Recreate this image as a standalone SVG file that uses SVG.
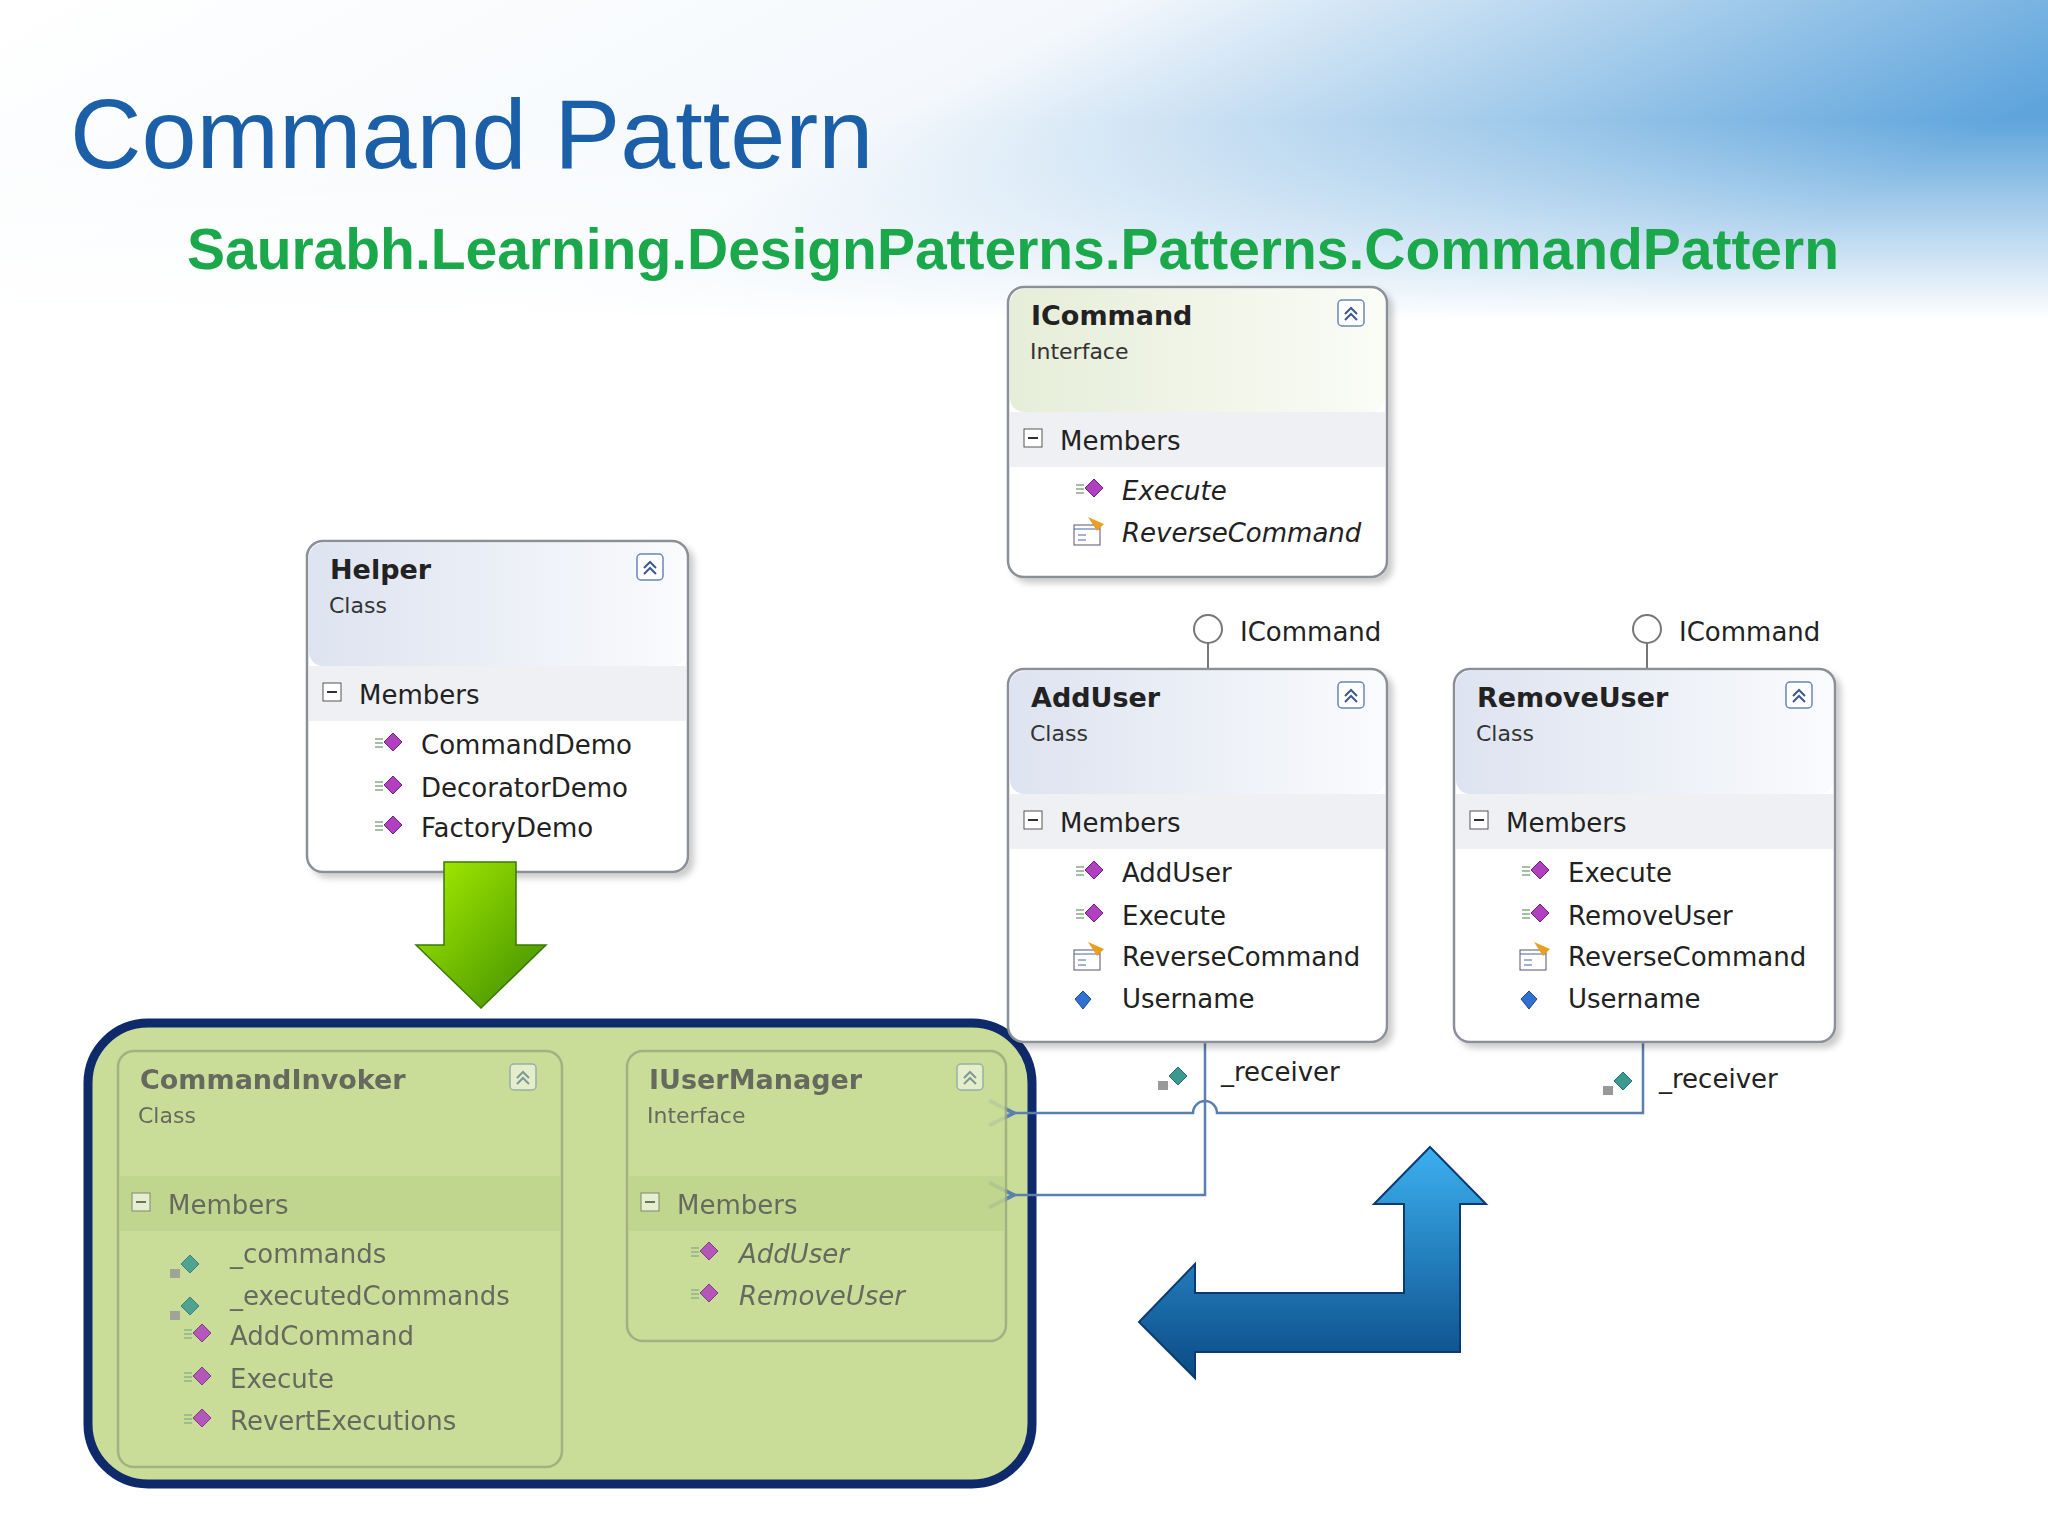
<svg xmlns="http://www.w3.org/2000/svg" width="2048" height="1536" viewBox="0 0 2048 1536">
<defs>
<linearGradient id="bg" x1="0" y1="0" x2="1" y2="0.3"><stop offset="0" stop-color="#fff"/><stop offset="0.5" stop-color="#f4f8fc"/><stop offset="1" stop-color="#5fa5dc"/></linearGradient>
<linearGradient id="bgfade" x1="0" y1="0" x2="0" y2="1"><stop offset="0" stop-color="#fff" stop-opacity="0"/><stop offset="1" stop-color="#fff"/></linearGradient>
<linearGradient id="hdr" x1="0" y1="0" x2="1" y2="0"><stop offset="0" stop-color="#dde3f0"/><stop offset="1" stop-color="#fafbfd"/></linearGradient>
<linearGradient id="hdrI" x1="0" y1="0" x2="1" y2="0"><stop offset="0" stop-color="#e6edd8"/><stop offset="1" stop-color="#fafcf6"/></linearGradient>
<linearGradient id="garr" x1="0" y1="0" x2="1" y2="1"><stop offset="0" stop-color="#a8f000"/><stop offset="1" stop-color="#3d8a00"/></linearGradient>
<linearGradient id="barr" x1="0" y1="0" x2="0" y2="1"><stop offset="0" stop-color="#3cb0f0"/><stop offset="1" stop-color="#0a4a85"/></linearGradient>
<marker id="oa" markerWidth="12" markerHeight="12" refX="1" refY="6" orient="auto"><path d="M11,1 L1,6 L11,11" fill="none" stroke="#5a7fb0" stroke-width="1.5"/></marker>
<g id="mth"><path d="M-14,-6 h8 M-14,-2 h8 M-14,2 h8" stroke="#8a8" stroke-width="1.5"/><path d="M4,-12 L13,-3 L4,6 L-5,-3 Z" fill="#b040c0" stroke="#702080"/></g>
<g id="prop"><rect x="-16" y="-16" width="26" height="20" fill="#fff" stroke="#557"/><path d="M-16,-12 h26 M-12,-6 h8 M-12,-1 h8" stroke="#46a"/><path d="M-2,-24 l16,7 l-7,7 z" fill="#e8a020"/></g>
<g id="fld"><path d="M0,-12 L8,-4 L0,6 L-8,-4 Z" fill="#3070d0" stroke="#1a4a90"/></g>
<g id="pfld"><rect x="-14" y="-4" width="10" height="9" fill="#999"/><path d="M6,-18 L15,-9 L6,0 L-3,-9 Z" fill="#3a9a90" stroke="#2a6a80"/></g>
<g id="col"><rect x="0" y="0" width="26" height="26" rx="4" fill="#fff" stroke="#6a86b8" stroke-width="1.5"/><path d="M7,14 l6,-6 l6,6 M7,20 l6,-6 l6,6" fill="none" stroke="#3a5a90" stroke-width="2"/></g>
<g id="minus"><rect x="0" y="0" width="18" height="18" fill="#fff" stroke="#555"/><path d="M4,9 h10" stroke="#333" stroke-width="2"/></g>
<filter id="sh" x="-5%" y="-5%" width="115%" height="115%"><feDropShadow dx="5" dy="5" stdDeviation="3" flood-color="#000" flood-opacity="0.2"/></filter>
</defs>
<style>
.bx{fill:#fff;stroke:#8a8f98;stroke-width:2.5;filter:url(#sh)}
.t{font-family:"DejaVu Sans",sans-serif;font-weight:bold;font-size:27px;fill:#222}
.s{font-family:"DejaVu Sans",sans-serif;font-size:22px;fill:#333}
.i{font-family:"DejaVu Sans",sans-serif;font-size:26px;fill:#222}
.it{font-style:italic}
.dim{fill:#555}
.band{fill:#eef0f4}
.ln{fill:none;stroke:#5a7fb0;stroke-width:2.5}
</style>
<rect width="2048" height="1536" fill="#fff"/>
<rect width="2048" height="320" fill="url(#bg)"/>
<rect y="120" width="2048" height="200" fill="url(#bgfade)"/>
<text x="70" y="168" font-family="Liberation Sans, sans-serif" font-size="99" fill="#1a5fa8">Command Pattern</text>
<text x="187" y="269" font-family="Liberation Sans, sans-serif" font-size="57" font-weight="bold" fill="#1aa84a" textLength="1652">Saurabh.Learning.DesignPatterns.Patterns.CommandPattern</text>

<g id="container"><rect x="88" y="1023" width="944" height="461" rx="60" fill="#c9dd98" stroke="#0e2a6a" stroke-width="9"/></g>

<g id="connectors">
<path class="ln" d="M1205,1042 V1195 H1014" marker-end="url(#oa)"/>
<path class="ln" d="M1643,1042 V1113 H1217 A12,12 0 0 0 1193,1113 H1014" marker-end="url(#oa)"/>
<circle cx="1208" cy="629" r="14" fill="#fff" stroke="#777" stroke-width="2"/><path d="M1208,643 V669" stroke="#777" stroke-width="2"/>
<text class="i" x="1240" y="641">ICommand</text>
<circle cx="1647" cy="629" r="14" fill="#fff" stroke="#777" stroke-width="2"/><path d="M1647,643 V669" stroke="#777" stroke-width="2"/>
<text class="i" x="1679" y="641">ICommand</text>
<use href="#pfld" x="1172" y="1085"/><text class="i" x="1221" y="1081">_receiver</text>
<use href="#pfld" x="1617" y="1090"/><text class="i" x="1659" y="1088">_receiver</text>
</g>

<g id="ICommand" transform="translate(1008,287)">
<rect class="bx" width="379" height="290" rx="16"/><rect x="2" y="2" width="375" height="123" rx="14" fill="url(#hdrI)"/>
<rect class="band" x="2" y="125" width="375" height="55"/>
<text class="t" x="23" y="38">ICommand</text><text class="s" x="22" y="72">Interface</text><use href="#col" x="330" y="13"/>
<use href="#minus" x="16" y="142"/><text class="i" x="52" y="163">Members</text>
<use href="#mth" x="82" y="204"/><text class="i it" x="114" y="213">Execute</text>
<use href="#prop" x="82" y="254"/><text class="i it" x="114" y="255">ReverseCommand</text>
</g>

<g id="Helper" transform="translate(307,541)">
<rect class="bx" width="381" height="331" rx="16"/><rect x="2" y="2" width="377" height="123" rx="14" fill="url(#hdr)"/>
<rect class="band" x="2" y="125" width="377" height="55"/>
<text class="t" x="23" y="38">Helper</text><text class="s" x="22" y="72">Class</text><use href="#col" x="330" y="13"/>
<use href="#minus" x="16" y="142"/><text class="i" x="52" y="163">Members</text>
<use href="#mth" x="82" y="204"/><text class="i" x="114" y="213">CommandDemo</text>
<use href="#mth" x="82" y="247"/><text class="i" x="114" y="256">DecoratorDemo</text>
<use href="#mth" x="82" y="287"/><text class="i" x="114" y="296">FactoryDemo</text>
</g>

<g id="AddUser" transform="translate(1008,669)">
<rect class="bx" width="379" height="373" rx="16"/><rect x="2" y="2" width="375" height="123" rx="14" fill="url(#hdr)"/>
<rect class="band" x="2" y="125" width="375" height="55"/>
<text class="t" x="23" y="38">AddUser</text><text class="s" x="22" y="72">Class</text><use href="#col" x="330" y="13"/>
<use href="#minus" x="16" y="142"/><text class="i" x="52" y="163">Members</text>
<use href="#mth" x="82" y="204"/><text class="i" x="114" y="213">AddUser</text>
<use href="#mth" x="82" y="247"/><text class="i" x="114" y="256">Execute</text>
<use href="#prop" x="82" y="297"/><text class="i" x="114" y="297">ReverseCommand</text>
<use href="#fld" x="75" y="334"/><text class="i" x="114" y="339">Username</text>
</g>

<g id="RemoveUser" transform="translate(1454,669)">
<rect class="bx" width="381" height="373" rx="16"/><rect x="2" y="2" width="377" height="123" rx="14" fill="url(#hdr)"/>
<rect class="band" x="2" y="125" width="377" height="55"/>
<text class="t" x="23" y="38">RemoveUser</text><text class="s" x="22" y="72">Class</text><use href="#col" x="332" y="13"/>
<use href="#minus" x="16" y="142"/><text class="i" x="52" y="163">Members</text>
<use href="#mth" x="82" y="204"/><text class="i" x="114" y="213">Execute</text>
<use href="#mth" x="82" y="247"/><text class="i" x="114" y="256">RemoveUser</text>
<use href="#prop" x="82" y="297"/><text class="i" x="114" y="297">ReverseCommand</text>
<use href="#fld" x="75" y="334"/><text class="i" x="114" y="339">Username</text>
</g>

<g id="CommandInvoker" transform="translate(118,1051)" opacity="0.85">
<rect width="444" height="416" rx="16" fill="#c9dd98" stroke="#9aaa80" stroke-width="2.5"/>
<rect x="2" y="125" width="440" height="55" fill="#bfd48c"/>
<text class="t dim" x="22" y="38">CommandInvoker</text><text class="s dim" x="20" y="72">Class</text><use href="#col" x="392" y="13" opacity="0.6"/>
<use href="#minus" x="14" y="142" opacity="0.7"/><text class="i dim" x="50" y="163">Members</text>
<use href="#pfld" x="66" y="222"/><text class="i dim" x="112" y="212">_commands</text>
<use href="#pfld" x="66" y="264"/><text class="i dim" x="112" y="254">_executedCommands</text>
<use href="#mth" x="80" y="285"/><text class="i dim" x="112" y="294">AddCommand</text>
<use href="#mth" x="80" y="328"/><text class="i dim" x="112" y="337">Execute</text>
<use href="#mth" x="80" y="370"/><text class="i dim" x="112" y="379">RevertExecutions</text>
</g>

<g id="IUserManager" transform="translate(627,1051)" opacity="0.85">
<rect width="379" height="290" rx="16" fill="#c9dd98" stroke="#9aaa80" stroke-width="2.5"/>
<rect x="2" y="125" width="375" height="55" fill="#bfd48c"/>
<text class="t dim" x="22" y="38">IUserManager</text><text class="s dim" x="20" y="72">Interface</text><use href="#col" x="330" y="13" opacity="0.6"/>
<use href="#minus" x="14" y="142" opacity="0.7"/><text class="i dim" x="50" y="163">Members</text>
<use href="#mth" x="78" y="203"/><text class="i dim it" x="112" y="212">AddUser</text>
<use href="#mth" x="78" y="245"/><text class="i dim it" x="112" y="254">RemoveUser</text>
</g>

<g id="greenArrow"><path d="M444,862 H516 V945 H546 L481,1008 L416,945 H444 Z" fill="url(#garr)" stroke="#3a7a00" stroke-width="1.5"/></g>
<g id="blueArrow"><path d="M1430,1147 L1486,1204 L1460,1204 L1460,1352 L1195,1352 L1195,1378 L1139,1322 L1195,1264 L1195,1293 L1404,1293 L1404,1204 L1374,1204 Z" fill="url(#barr)" stroke="#0a3a70" stroke-width="2"/></g>
</svg>
